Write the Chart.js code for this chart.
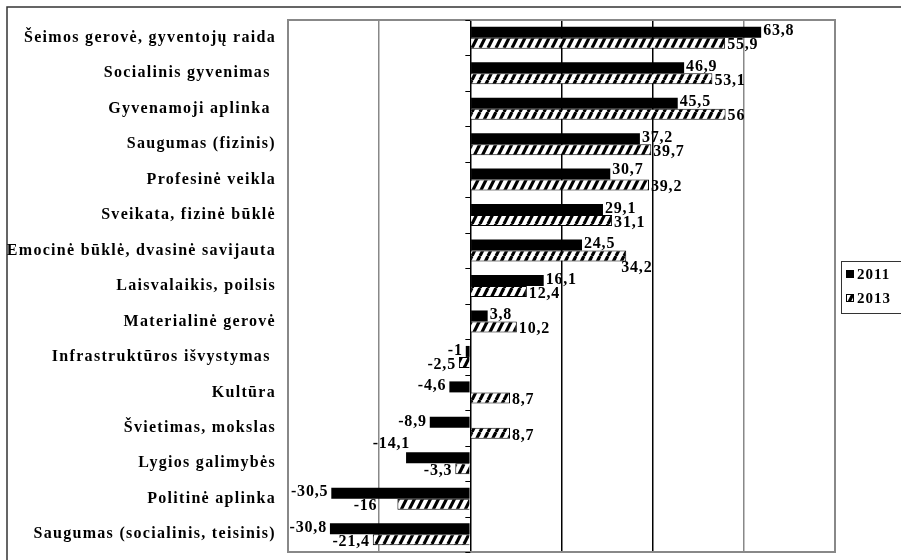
<!DOCTYPE html>
<html>
<head>
<meta charset="utf-8">
<script src="https://cdn.jsdelivr.net/npm/chart.js@4"></script>
<style>
html,body{margin:0;padding:0;background:#fff;}
#wrap{width:901px;height:560px;position:relative;}
</style>
</head>
<body>
<div id="wrap"><canvas id="c" width="901" height="560"></canvas></div>
<script>
const categories = [
  'Šeimos gerovė, gyventojų raida',
  'Socialinis gyvenimas ',
  'Gyvenamoji aplinka ',
  'Saugumas (fizinis)',
  'Profesinė veikla',
  'Sveikata, fizinė būklė',
  'Emocinė būklė, dvasinė savijauta',
  'Laisvalaikis, poilsis',
  'Materialinė gerovė',
  'Infrastruktūros išvystymas ',
  'Kultūra',
  'Švietimas, mokslas',
  'Lygios galimybės',
  'Politinė aplinka',
  'Saugumas (socialinis, teisinis)'
];
const values2011 = [63.8, 46.9, 45.5, 37.2, 30.7, 29.1, 24.5, 16.1, 3.8, -1, -4.6, -8.9, -14.1, -30.5, -30.8];
const values2013 = [55.9, 53.1, 56, 39.7, 39.2, 31.1, 34.2, 12.4, 10.2, -2.5, 8.7, 8.7, -3.3, -16, -21.4];
const seriesNames = ['2011', '2013'];
const xMin = -40, xMax = 80, xStep = 20;

const FONT = '"Liberation Serif", "Times New Roman", serif';

function makeHatch() {
  const c = document.createElement('canvas');
  c.width = 8; c.height = 16;
  const g = c.getContext('2d');
  g.fillStyle = '#fff'; g.fillRect(0, 0, 8, 16);
  g.strokeStyle = '#000'; g.lineWidth = 3.2;
  for (const k of [-8, 0, 8]) {
    g.beginPath(); g.moveTo(k, 16); g.lineTo(k + 8, 0); g.stroke();
  }
  return g.createPattern(c, 'repeat');
}
const hatch = makeHatch();

const labelNudge = {
  '0-4': {dx: 0, dy: -3},
  '1-6': {dx: -7, dy: 10},
  '0-12': {dx: 7, dy: -13},
  '1-13': {dx: -17, dy: 0}
};

const framePlugin = {
  id: 'frame',
  beforeDraw(chart) {
    const ctx = chart.ctx;
    ctx.save();
    ctx.fillStyle = '#fff';
    ctx.fillRect(0, 0, chart.width, chart.height);
    ctx.strokeStyle = '#333';
    ctx.lineWidth = 1.5;
    ctx.strokeRect(7, 7, 1000, 700);
    ctx.restore();
    ctx.letterSpacing = '1.3px';
  },
  beforeDatasetsDraw(chart) {
    const ctx = chart.ctx, a = chart.chartArea;
    const xs = chart.scales.x;
    const n = categories.length;
    const h = (a.bottom - a.top) / n;
    const x0 = xs.getPixelForValue(0);
    ctx.save();
    ctx.strokeStyle = '#888';
    ctx.lineWidth = 2;
    ctx.strokeRect(a.left, a.top, a.right - a.left, a.bottom - a.top);
    ctx.strokeStyle = '#000';
    ctx.lineWidth = 1;
    for (let i = 0; i <= n; i++) {
      const y = Math.round(a.top + i * h) + 0.5;
      ctx.beginPath(); ctx.moveTo(x0 - 5, y); ctx.lineTo(x0, y); ctx.stroke();
    }
    ctx.restore();
  },
  afterDatasetsDraw(chart) {
    const ctx = chart.ctx;
    ctx.save();
    ctx.letterSpacing = '0.8px';
    ctx.font = 'bold 16px ' + FONT;
    ctx.fillStyle = '#000';
    ctx.textBaseline = 'middle';
    chart.data.datasets.forEach((ds, di) => {
      const meta = chart.getDatasetMeta(di);
      meta.data.forEach((el, i) => {
        const v = ds.data[i];
        const txt = String(v).replace('.', ',');
        const nd = labelNudge[di + '-' + i] || {dx: 0, dy: 0};
        let y = el.y + (di === 0 ? -1 : 2) + nd.dy;
        let x;
        if (v >= 0) { ctx.textAlign = 'left'; x = el.x + 2; }
        else { ctx.textAlign = 'right'; x = el.x - 3; }
        ctx.fillText(txt, x + nd.dx, y);
      });
    });
    ctx.restore();
  },
  afterDraw(chart) {
    const ctx = chart.ctx;
    ctx.save();
    ctx.letterSpacing = '1px';
    ctx.strokeStyle = '#333';
    ctx.lineWidth = 1;
    ctx.strokeRect(841.5, 261.5, 80, 52);
    ctx.font = 'bold 15px ' + FONT;
    ctx.textBaseline = 'middle';
    ctx.textAlign = 'left';
    const items = [
      {fill: '#000', text: seriesNames[0], y: 274},
      {fill: hatch, text: seriesNames[1], y: 298}
    ];
    items.forEach(it => {
      ctx.fillStyle = it.fill;
      ctx.fillRect(846, it.y - 4, 8, 8);
      ctx.strokeStyle = '#000';
      ctx.strokeRect(846.5, it.y - 3.5, 7, 7);
      ctx.fillStyle = '#000';
      ctx.fillText(it.text, 857, it.y + 1);
    });
    ctx.restore();
    ctx.letterSpacing = '0px';
  }
};

new Chart(document.getElementById('c'), {
  type: 'bar',
  data: {
    labels: categories,
    datasets: [
      {label: seriesNames[0], data: values2011, backgroundColor: '#000', borderColor: '#000', borderWidth: 0,
       categoryPercentage: 0.62, barPercentage: 1.0},
      {label: seriesNames[1], data: values2013, backgroundColor: hatch, borderColor: '#000', borderWidth: 1,
       categoryPercentage: 0.62, barPercentage: 1.0}
    ]
  },
  options: {
    indexAxis: 'y',
    responsive: false,
    animation: false,
    devicePixelRatio: 1,
    layout: {padding: {top: 20, bottom: 8, right: 66, left: 0}},
    plugins: {legend: {display: false}, tooltip: {enabled: false}},
    scales: {
      x: {
        min: xMin, max: xMax,
        ticks: {display: false, stepSize: xStep},
        grid: {
          drawTicks: false,
          color: c => {
            const v = c.tick ? c.tick.value : 0;
            if (v === 0 || v === 20 || v === 40) return '#000';
            return '#888';
          },
          lineWidth: c => {
            const v = c.tick ? c.tick.value : 0;
            return (v === xMin || v === xMax) ? 0 : 1.5;
          }
        },
        border: {display: false},
        afterFit(s) { s.height = 0; s.paddingLeft = 0; s.paddingRight = 0; }
      },
      y: {
        grid: {display: false, drawTicks: false},
        border: {display: false},
        ticks: {
          padding: 12,
          color: '#000',
          font: {family: FONT, size: 16, weight: 'bold'}
        },
        afterFit(s) { s.width = 288; s.paddingTop = 0; s.paddingBottom = 0; }
      }
    }
  },
  plugins: [framePlugin]
});
</script>
</body>
</html>
